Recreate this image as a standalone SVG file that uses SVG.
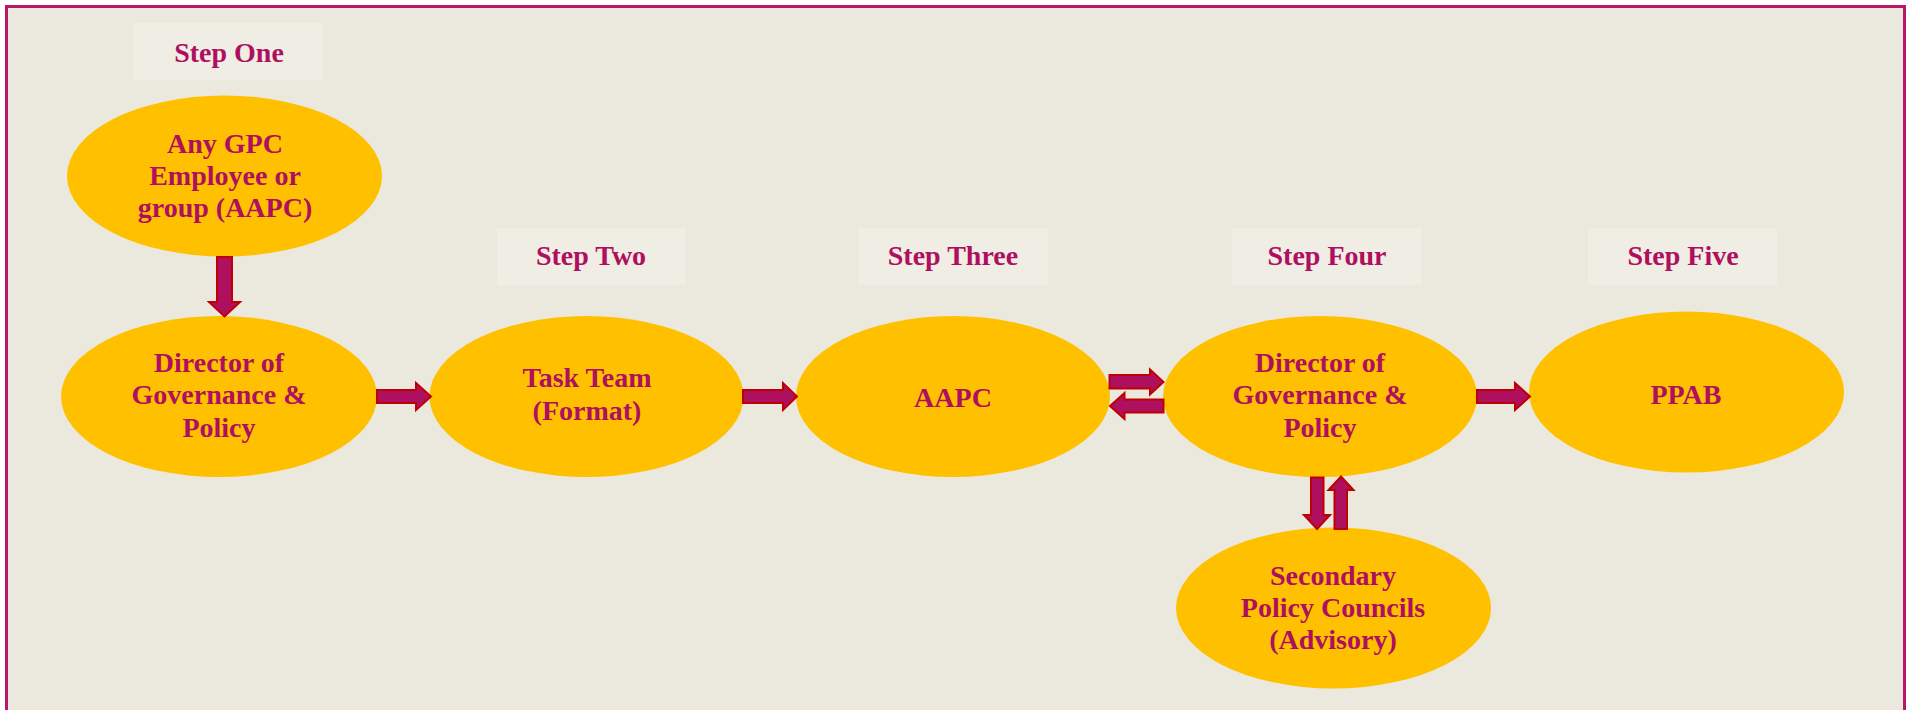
<svg xmlns="http://www.w3.org/2000/svg" width="1910" height="710" viewBox="0 0 1910 710">
<style>
.lbl{font-family:"Liberation Serif","Times New Roman",serif;font-weight:bold;font-size:28px;fill:#AF0F5F;text-anchor:middle}
.step{fill:#EFEDE4}
.node{fill:#FFC000}
.arr{fill:#AF0F5F;stroke:#C00000;stroke-width:2;stroke-linejoin:miter}
</style>
<rect x="0" y="0" width="1910" height="710" fill="#FFFFFF"/>
<rect x="6.5" y="6.5" width="1898" height="800" fill="#EBE9DD" stroke="#B5176B" stroke-width="3"/>

<g id="step1"><rect class="step" x="133" y="23" width="190" height="57"/><text class="lbl" x="229" y="62">Step One</text></g>
<g id="step2"><rect class="step" x="497" y="228" width="189" height="57"/><text class="lbl" x="591" y="265">Step Two</text></g>
<g id="step3"><rect class="step" x="858" y="228" width="190" height="57"/><text class="lbl" x="953" y="265">Step Three</text></g>
<g id="step4"><rect class="step" x="1232" y="228" width="190" height="57"/><text class="lbl" x="1327" y="265">Step Four</text></g>
<g id="step5"><rect class="step" x="1588" y="228" width="189" height="57"/><text class="lbl" x="1683" y="265">Step Five</text></g>

<g id="n-employee"><ellipse class="node" cx="224.5" cy="176" rx="157.5" ry="80.5"/>
<text class="lbl" x="225" y="152.5">Any GPC</text><text class="lbl" x="225" y="184.5">Employee or</text><text class="lbl" x="225" y="216.5">group (AAPC)</text></g>

<g id="n-director1"><ellipse class="node" cx="219" cy="396.5" rx="158" ry="80.5"/>
<text class="lbl" x="219" y="371.5">Director of</text><text class="lbl" x="219" y="404">Governance &amp;</text><text class="lbl" x="219" y="436.5">Policy</text></g>

<g id="n-taskteam"><ellipse class="node" cx="586.5" cy="396.5" rx="157" ry="80.5"/>
<text class="lbl" x="587" y="386.5">Task Team</text><text class="lbl" x="587" y="420">(Format)</text></g>

<g id="n-aapc"><ellipse class="node" cx="953" cy="396.5" rx="157" ry="80.5"/>
<text class="lbl" x="953" y="406.5">AAPC</text></g>

<g id="n-director2"><ellipse class="node" cx="1320" cy="396.5" rx="157" ry="80.5"/>
<text class="lbl" x="1320" y="371.5">Director of</text><text class="lbl" x="1320" y="404">Governance &amp;</text><text class="lbl" x="1320" y="436.5">Policy</text></g>

<g id="n-ppab"><ellipse class="node" cx="1686.5" cy="392" rx="157.5" ry="80.5"/>
<text class="lbl" x="1686" y="403.5">PPAB</text></g>

<g id="n-secondary"><ellipse class="node" cx="1333.5" cy="608" rx="157.5" ry="80.5"/>
<text class="lbl" x="1333" y="585">Secondary</text><text class="lbl" x="1333" y="616.5">Policy Councils</text><text class="lbl" x="1333" y="648.5">(Advisory)</text></g>

<g id="connectors">
<polygon class="arr" points="217,257 232,257 232,302 240,302 224.5,316.5 209,302 217,302"/>
<polygon class="arr" points="377,390 416,390 416,383 431,396.5 416,410 416,403 377,403"/>
<polygon class="arr" points="743,390 783,390 783,383 797,396.5 783,410 783,403 743,403"/>
<polygon class="arr" points="1109.5,375 1150,375 1150,369.5 1163.5,382 1150,394.5 1150,388.5 1109.5,388.5"/>
<polygon class="arr" points="1163.5,399.5 1124.5,399.5 1124.5,393 1110,406 1124.5,419 1124.5,412.5 1163.5,412.5"/>
<polygon class="arr" points="1477,390 1515,390 1515,383 1530,396.5 1515,410 1515,403 1477,403"/>
<polygon class="arr" points="1311,477.5 1323.5,477.5 1323.5,515 1330,515 1317,529 1304,515 1311,515"/>
<polygon class="arr" points="1334.5,529 1347,529 1347,490 1353.5,490 1341,476.5 1328.5,490 1334.5,490"/>
</g>
</svg>
